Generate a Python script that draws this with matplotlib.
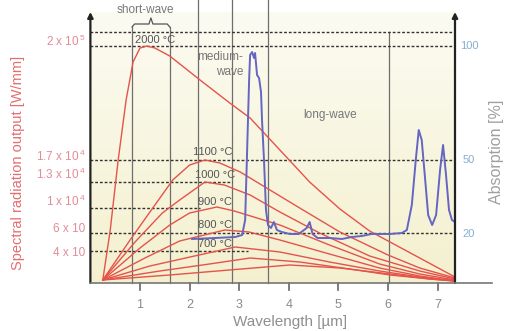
import numpy as np
import matplotlib
matplotlib.use("Agg")
import matplotlib.pyplot as plt
from matplotlib.colors import LinearSegmentedColormap

# ---------------- data (wavelength in µm, vertical value in chart units) -------------
curve_names = ["2000", "1100", "1000", "900", "800", "700", "600", "500"]
x_2000 = [0.25, 0.40, 0.56, 0.72, 0.86, 1.00, 1.14, 1.30, 1.60, 2.21, 2.81, 3.22, 3.82, 4.42, 5.03, 5.63, 6.04, 6.64, 7.35]
y_2000 = [3, 53, 123, 183, 221, 235, 237, 235, 227, 203, 180, 165, 133, 101, 74, 52, 41, 25, 6]
x_1100 = [0.25, 0.80, 1.20, 1.66, 2.00, 2.31, 2.61, 3.02, 3.62, 4.22, 5.03, 6.00, 6.64, 7.35]
y_1100 = [3, 43, 71, 103, 118, 123, 120, 111, 93, 75, 51, 28, 15, 5]
x_1000 = [0.25, 0.90, 1.45, 1.80, 2.31, 2.70, 3.22, 3.82, 4.62, 5.63, 6.64, 7.35]
y_1000 = [3, 41, 70, 83, 101, 98, 88, 71, 50, 27, 12, 4]
x_900 = [0.25, 1.00, 1.60, 2.00, 2.55, 2.90, 3.82, 4.82, 5.83, 6.64, 7.35]
y_900 = [3, 35, 58, 70, 76, 72, 58, 38, 19, 9, 3]
x_800 = [0.25, 1.10, 1.80, 2.71, 3.20, 3.82, 4.82, 5.83, 6.64, 7.35]
y_800 = [3, 25, 42, 53, 51, 43, 29, 15, 7, 2]
x_700 = [0.25, 1.20, 2.10, 2.92, 3.82, 4.82, 5.83, 6.64, 7.35]
y_700 = [3, 17, 27, 36, 31, 21, 12, 6, 2]
x_600 = [0.25, 1.40, 2.40, 3.22, 4.22, 5.23, 6.04, 6.84, 7.35]
y_600 = [3, 12, 19, 25, 21, 14, 8, 4, 2]
x_500 = [0.25, 1.60, 2.80, 4.02, 5.03, 6.04, 6.84, 7.35]
y_500 = [3, 8, 13, 18, 15, 9, 4, 2]

abs_x = [2.05, 2.51, 2.92, 3.06, 3.12, 3.16, 3.20, 3.22, 3.26, 3.30, 3.32, 3.36, 3.40, 3.44,
         3.46, 3.50, 3.54, 3.58, 3.64, 3.70, 3.76, 3.86, 4.02, 4.20, 4.36, 4.42, 4.48, 4.58,
         4.83, 5.07, 5.27, 5.47, 5.67, 6.04, 6.28, 6.38, 6.48, 6.56, 6.62, 6.68, 6.75, 6.81,
         6.89, 6.97, 7.05, 7.11, 7.17, 7.23, 7.29, 7.35]
abs_y = [44, 45, 46, 48, 63, 133, 203, 228, 231, 225, 230, 208, 205, 191,
         163, 123, 73, 58, 55, 61, 53, 51, 49, 49, 55, 61, 49, 45,
         45, 44, 46, 47, 49, 49, 50, 53, 78, 123, 153, 143, 103, 68,
         58, 68, 113, 138, 108, 73, 63, 61]

x_ticks = [1, 2, 3, 4, 5, 6, 7]
left_labels = [r"2 x 10$^{\,5}$", r"1.7 x 10$^{\,4}$", r"1.3 x 10$^{\,4}$", r"1 x 10$^{\,4}$", "6 x 10", "4 x 10"]
left_label_y = [242, 127, 109, 82, 54, 30]
right_labels = ["100", "50", "20"]
right_label_y = [237, 123, 49]
hlines_y = [251, 237, 123, 101, 75, 50, 32]
hlines_xend = [7.35, 7.35, 7.35, 2.85, 2.2, 7.35, 3.17]
vlines_x = [0.84, 1.60, 2.17, 2.85, 3.58, 6.02]
vlines_top = [256, 256, 283, 283, 283, 251]
temp_labels = ["2000 °C", "1100 °C", "1000 °C", "900 °C", "800 °C", "700 °C"]
temp_x = [0.90, 2.06, 2.11, 2.17, 2.17, 2.17]
temp_y = [243, 131, 108, 81, 58, 39]

# ---------------- figure ----------------
plt.rcParams["font.family"] = ["Liberation Sans", "DejaVu Sans"]
plt.rcParams["mathtext.fontset"] = "custom"
plt.rcParams["mathtext.rm"] = "Liberation Sans"

W, H = 510, 331
fig = plt.figure(figsize=(W / 100, H / 100), dpi=100)
px0, px1, py_bot, py_top = 90.4, 455, 283, 12
ax = fig.add_axes([px0 / W, (H - py_bot) / H, (px1 - px0) / W, (py_bot - py_top) / H])
XMAX = (px1 - px0) / 49.6
YMAX = py_bot - py_top
ax.set_xlim(0, XMAX)
ax.set_ylim(0, YMAX)
ax.axis("off")

# background gradient
cmap = LinearSegmentedColormap.from_list("bg", ["#f4f0cf", "#f8f6e0", "#fcfbf2"])
grad = np.linspace(0, 1, 256).reshape(-1, 1)
ax.imshow(grad, extent=(0, XMAX, 0, YMAX), origin="lower", aspect="auto", cmap=cmap, zorder=0)

# vertical lines
for vx, vt in zip(vlines_x, vlines_top):
    ax.plot([vx, vx], [0, vt], color="#6e6e6e", lw=0.9, zorder=1, clip_on=False)

# bracket for short-wave
bx0, bx1 = vlines_x[0], vlines_x[1]
bm = (bx0 + bx1) / 2
ax.plot([bx0, bx0 + 0.05, bm - 0.04, bm, bm + 0.04, bx1 - 0.05, bx1],
        [256, 259, 259, 265, 259, 259, 256], color="#555", lw=0.9, clip_on=False)

# horizontal dotted lines
for hy, he in zip(hlines_y, hlines_xend):
    ax.plot([0, he], [hy, hy], color="#333", lw=1.0, ls=(0, (2.0, 1.4)), zorder=2, clip_on=False)

red = "#e5534b"
for xs, ys in [(x_2000, y_2000), (x_1100, y_1100), (x_1000, y_1000), (x_900, y_900),
               (x_800, y_800), (x_700, y_700), (x_600, y_600), (x_500, y_500)]:
    ax.plot(xs, ys, color=red, lw=1.0, zorder=3)

ax.plot(abs_x, abs_y, color="#6565c2", lw=1.4, zorder=4)

# axes lines with arrows
for ax_x in [0, XMAX]:
    ax.annotate("", xy=(ax_x, YMAX), xytext=(ax_x, 0),
                arrowprops=dict(arrowstyle="-|>", lw=1.6, color="#222", mutation_scale=8,
                                shrinkA=0, shrinkB=0), annotation_clip=False, zorder=5)
ax.plot([0, (492 - px0) / 49.6], [0, 0], color="#777", lw=1.2, clip_on=False, zorder=5)
for t in x_ticks:
    ax.plot([t, t], [0, -7], color="#666", lw=1.2, clip_on=False)
    ax.text(t, -22, str(t), ha="center", va="center", fontsize=9, color="#8a8a8a")

ax.text((290 - px0) / 49.6, -39, "Wavelength [µm]", ha="center", va="center", fontsize=11, color="#8f8f8f")

for lab, ly in zip(left_labels, left_label_y):
    ax.text(-0.10, ly, lab, ha="right", va="center", fontsize=8.5, color="#e28c98")
for lab, ly in zip(right_labels, right_label_y):
    ax.text(7.63, ly, lab, ha="center", va="center", fontsize=8, color="#86aed0")

fig.text(18 / W, 1 - 163 / H, "Spectral radiation output [W/mm]", rotation=90, ha="center",
         va="center", fontsize=10.5, color="#e46e6e")
fig.text(497 / W, 1 - 152 / H, "Absorption [%]", rotation=90, ha="center", va="center",
         fontsize=11.5, color="#a0a0a0")

for lab, tx, ty in zip(temp_labels, temp_x, temp_y):
    ax.text(tx, ty, lab, ha="left", va="center", fontsize=8, color="#555", zorder=6)

ax.text(3.08, 226, "medium-", ha="right", va="center", fontsize=8.5, color="#777")
ax.text(3.08, 211, "wave", ha="right", va="center", fontsize=8.5, color="#777")
ax.text(4.83, 168, "long-wave", ha="center", va="center", fontsize=8.5, color="#777")
ax.text(1.10, 273, "short-wave", ha="center", va="center", fontsize=8.5, color="#777", clip_on=False)

fig.savefig("out.png", dpi=100)
